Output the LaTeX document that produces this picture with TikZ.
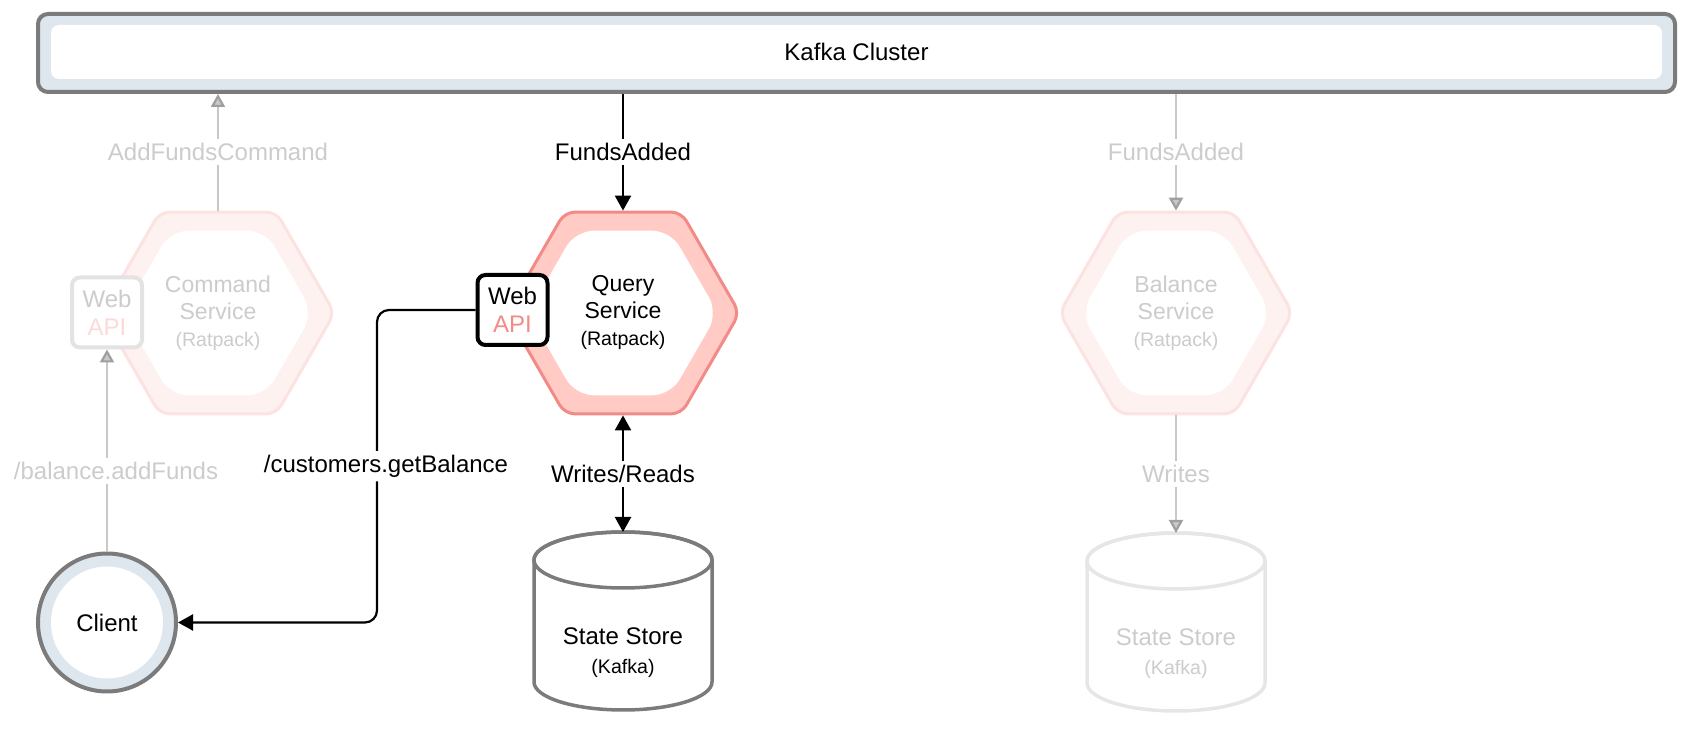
\documentclass[tikz,border=0pt]{standalone}
\usepackage{fontspec}
\setmainfont{Liberation Sans}
\usetikzlibrary{shapes.geometric,arrows.meta,positioning}

\definecolor{framegray}{HTML}{7B7B7B}
\definecolor{framefill}{HTML}{DEE6EE}
\definecolor{ringred}{HTML}{F28B87}
\definecolor{ringfill}{HTML}{FFCBC4}
\definecolor{paleringred}{HTML}{FCE2E0}
\definecolor{paleringfill}{HTML}{FEF2F1}
\definecolor{paletext}{HTML}{CCCCCC}
\definecolor{paleline}{HTML}{C8C8C8}
\definecolor{paleapi}{HTML}{FCDAD7}
\definecolor{palestore}{HTML}{E6E6E6}

\newcommand{\smalltag}[1]{{\fontsize{9.8pt}{11pt}\selectfont #1}}

\tikzset{
  hexring/.style={regular polygon, regular polygon sides=6, minimum size=116.5pt,
    inner sep=0pt, line width=1.5pt, rounded corners=5pt},
  hexcore/.style={regular polygon, regular polygon sides=6, minimum size=95pt,
    inner sep=0pt, fill=white, rounded corners=9pt, align=center,
    font=\fontsize{11.5pt}{13.5pt}\selectfont},
  apibox/.style={rectangle, rounded corners=4pt, line width=2pt, minimum width=35pt,
    minimum height=35pt, inner sep=0pt, fill=white, align=center,
    font=\fontsize{12pt}{14pt}\selectfont},
  storebox/.style={rectangle, minimum width=89pt, minimum height=89pt,
    inner sep=0pt, outer sep=0pt},
  storetext/.style={align=center, font=\fontsize{12pt}{14.5pt}\selectfont},
  flowtip/.tip={Triangle[length=7.5pt,width=8pt]},
  paletip/.tip={Triangle[length=6.5pt,width=7pt,color=gray!75,fill=paleline]},
  flow/.style={line width=1.1pt, -flowtip},
  paleflow/.style={line width=1.1pt, draw=paleline, -paletip},
  flowlabel/.style={fill=white, inner sep=2pt, font=\fontsize{12pt}{14pt}\selectfont},
}

\begin{document}
\begin{tikzpicture}[x=0.5pt, y=-0.5pt]
  \useasboundingbox (0,0) rectangle (1688,742);

  % kafka
  \node[draw=framegray, fill=framefill, line width=2pt, rounded corners=5pt,
    minimum width=818.5pt, minimum height=39pt] (kafkabar) at (856.5,53) {};
  \node[fill=white, rounded corners=4pt, minimum width=805.5pt, minimum height=27pt,
    font=\fontsize{12pt}{14pt}\selectfont] (kafka) at (856.5,52) {Kafka Cluster};

  % command side
  \node[hexring, draw=paleringred, fill=paleringfill] (commandring) at (218,313) {};
  \node[hexcore, text=paletext] (command) at (218,313) {Command\\Service\\\smalltag{(Ratpack)}};
  \node[apibox, draw=gray!22, text=paletext] (commandapi) at (107,312.5) {Web\\\textcolor{paleapi}{API}};

  % query side
  \node[hexring, draw=ringred, fill=ringfill] (queryring) at (623,313) {};
  \node[hexcore] (query) at (623,313) {Query\\Service\\\smalltag{(Ratpack)}};
  \node[apibox, draw=black] (queryapi) at (512.5,310) {Web\\\textcolor{ringred}{API}};

  % balance side
  \node[hexring, draw=paleringred, fill=paleringfill] (balancering) at (1176,313) {};
  \node[hexcore, text=paletext] (balance) at (1176,313) {Balance\\Service\\\smalltag{(Ratpack)}};

  % client
  \node[circle, draw=framegray, fill=framefill, line width=2pt, minimum size=69pt,
    inner sep=0pt] (clientring) at (107,622.5) {};
  \node[circle, fill=white, minimum size=56pt, inner sep=0pt,
    font=\fontsize{12pt}{14pt}\selectfont] (client) at (107,622.5) {Client};

  % state stores
  \node[storebox] (store) at (623,621) {};
  \draw[line width=1.75pt, draw=framegray, fill=white]
    ([yshift=-14pt]store.north west) -- ([yshift=14pt]store.south west)
    arc[start angle=180, end angle=360, x radius=44.5pt, y radius=14pt]
    -- ([yshift=-14pt]store.north east)
    arc[start angle=0, end angle=180, x radius=44.5pt, y radius=14pt];
  \draw[line width=1.75pt, draw=framegray] ([yshift=-14pt]store.north)
    ellipse[x radius=44.5pt, y radius=14pt];
  \node[storetext] (storelabel) at (623,653) {State Store\\\smalltag{(Kafka)}};

  \node[storebox] (balancestore) at (1176,622) {};
  \draw[line width=1.75pt, draw=palestore, fill=white]
    ([yshift=-14pt]balancestore.north west) -- ([yshift=14pt]balancestore.south west)
    arc[start angle=180, end angle=360, x radius=44.5pt, y radius=14pt]
    -- ([yshift=-14pt]balancestore.north east)
    arc[start angle=0, end angle=180, x radius=44.5pt, y radius=14pt];
  \draw[line width=1.75pt, draw=palestore] ([yshift=-14pt]balancestore.north)
    ellipse[x radius=44.5pt, y radius=14pt];
  \node[storetext, text=paletext] (balancestorelabel) at (1176,654) {State Store\\\smalltag{(Kafka)}};

  % flows
  \coordinate (getturn) at (377,622.5);
  \draw[flow] (kafkabar.south -| queryring) -- node[flowlabel] {FundsAdded} (queryring.north);
  \draw[flow, flowtip-flowtip] (queryring.south) -- node[flowlabel] {Writes/Reads} (store.north);
  \draw[flow, rounded corners=6pt] (queryapi.west) -| node[flowlabel, pos=0.75, xshift=4.5pt] {/customers.getBalance}
    (getturn) -- (clientring.east);

  \draw[paleflow] (commandring.north) -- node[flowlabel, text=paletext] {AddFundsCommand}
    (kafkabar.south -| commandring);
  \draw[paleflow] (clientring.north) -- node[flowlabel, text=paletext, pos=0.4, xshift=4.5pt] {/balance.addFunds}
    (commandapi.south);
  \draw[paleflow] (kafkabar.south -| balancering) -- node[flowlabel, text=paletext] {FundsAdded}
    (balancering.north);
  \draw[paleflow] (balancering.south) -- node[flowlabel, text=paletext] {Writes}
    (balancestore.north);
\end{tikzpicture}
\end{document}
